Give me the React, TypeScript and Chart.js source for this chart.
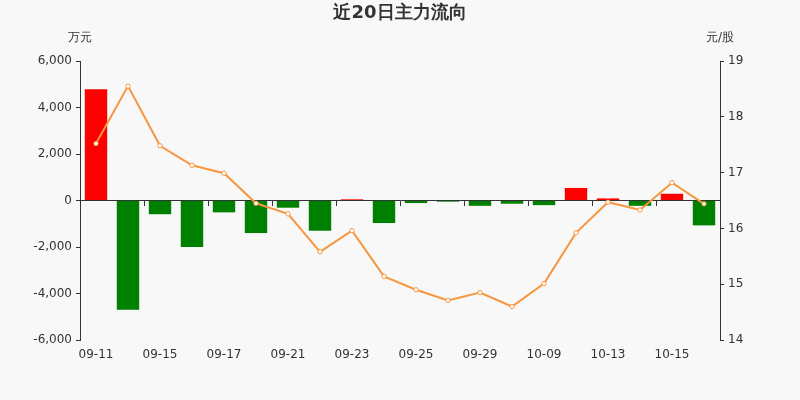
import React, { useEffect, useRef } from "react";
import { Chart, registerables } from "chart.js";

Chart.register(...registerables);

const dates = [
  "09-11", "09-14", "09-15", "09-16", "09-17", "09-18", "09-21", "09-22", "09-23", "09-24",
  "09-25", "09-28", "09-29", "09-30", "10-09", "10-12", "10-13", "10-14", "10-15", "10-16",
];
const mainFlow = [
  4790, -4700, -590, -2000, -510, -1400, -310, -1300, 50, -970,
  -110, -50, -230, -140, -200, 540, 90, -230, 290, -1070,
];
const closePrice = [
  17.52, 18.55, 17.48, 17.13, 16.99, 16.45, 16.26, 15.58, 15.96, 15.14,
  14.9, 14.71, 14.85, 14.6, 15.01, 15.92, 16.47, 16.33, 16.82, 16.44,
];
const leftTicks = [-6000, -4000, -2000, 0, 2000, 4000, 6000];
const rightTicks = [14, 15, 16, 17, 18, 19];

const TEXT = "#333333";
const FONT = "'DejaVu Sans', sans-serif";

const unitPlugin = {
  id: "units",
  afterDraw(chart: any) {
    const { ctx } = chart;
    const yl = chart.scales.y;
    const yr = chart.scales.y1;
    ctx.save();
    ctx.fillStyle = TEXT;
    ctx.font = `12px ${FONT}`;
    ctx.textAlign = "center";
    ctx.textBaseline = "middle";
    ctx.fillText("万元", yl.right, 38);
    ctx.fillText("元/股", yr.left, 38);
    ctx.restore();
  },
};

export default function App() {
  const ref = useRef<HTMLCanvasElement>(null);
  useEffect(() => {
    document.body.style.margin = "0";
    document.body.style.background = "#f8f8f8";
    const chart = new Chart(ref.current as HTMLCanvasElement, {
      data: {
        labels: dates,
        datasets: [
          {
            type: "line",
            label: "price",
            data: closePrice,
            yAxisID: "y1",
            borderColor: "#f7963f",
            borderWidth: 2,
            pointRadius: 2.2,
            pointBackgroundColor: "#ffffff",
            pointBorderColor: "#f7963f",
            pointBorderWidth: 1,
            tension: 0,
            order: 0,
          },
          {
            type: "bar",
            label: "flow",
            data: mainFlow,
            yAxisID: "y",
            backgroundColor: mainFlow.map((v) => (v >= 0 ? "#ff0000" : "#008000")),
            borderWidth: 0,
            categoryPercentage: 1,
            barPercentage: 0.7,
            minBarLength: 1,
            order: 1,
          },
        ],
      } as any,
      options: {
        animation: false,
        responsive: false,
        maintainAspectRatio: false,
        layout: { padding: { top: 0, left: 0, right: 0, bottom: 0 } },
        plugins: {
          legend: { display: false },
          tooltip: { enabled: false },
          title: {
            display: true,
            text: "近20日主力流向",
            color: TEXT,
            font: { family: FONT, size: 18, weight: "bold" },
            padding: { top: 3, bottom: 36.4 },
          },
        },
        scales: {
          x: {
            type: "category",
            position: { y: 0 } as any,
            offset: true,
            grid: {
              offset: true,
              drawOnChartArea: false,
              drawTicks: true,
              tickLength: 5,
              color: (c: any) => (c.index % 2 === 0 ? TEXT : "rgba(0,0,0,0)"),
            },
            border: { display: true, color: TEXT, width: 1 },
            ticks: { display: false, autoSkip: false },
          },
          x2: {
            type: "category",
            labels: dates,
            position: "bottom",
            offset: true,
            grid: { display: false, drawTicks: false },
            border: { display: false },
            ticks: {
              autoSkip: false,
              maxRotation: 0,
              padding: 8,
              color: TEXT,
              font: { family: FONT, size: 12 },
              callback: (_v: any, i: number) => (i % 2 === 0 ? dates[i] : ""),
            },
            afterFit: (s: any) => {
              s.height = 60;
            },
          },
          y: {
            type: "linear",
            position: "left",
            min: -6000,
            max: 6000,
            afterBuildTicks: (s: any) => {
              s.ticks = leftTicks.map((v) => ({ value: v }));
            },
            grid: { drawOnChartArea: false, tickLength: 4, color: TEXT },
            border: { display: true, color: TEXT, width: 1 },
            ticks: {
              padding: 4,
              color: TEXT,
              font: { family: FONT, size: 12 },
              callback: (v: any) => Number(v).toLocaleString("en-US"),
            },
            afterFit: (s: any) => {
              s.width = 80;
            },
          },
          y1: {
            type: "linear",
            position: "right",
            min: 14,
            max: 19,
            afterBuildTicks: (s: any) => {
              s.ticks = rightTicks.map((v) => ({ value: v }));
            },
            grid: { drawOnChartArea: false, tickLength: 4, color: TEXT },
            border: { display: true, color: TEXT, width: 1 },
            ticks: {
              padding: 4,
              color: TEXT,
              font: { family: FONT, size: 12 },
              callback: (v: any) => String(v),
            },
            afterFit: (s: any) => {
              s.width = 80;
            },
          },
        },
      } as any,
      plugins: [unitPlugin],
    });
    return () => chart.destroy();
  }, []);
  return (
    <div style={{ position: "fixed", left: 0, top: 0, width: 800, height: 400, background: "#f8f8f8" }}>
      <canvas ref={ref} width={800} height={400} style={{ width: 800, height: 400 }} />
    </div>
  );
}
